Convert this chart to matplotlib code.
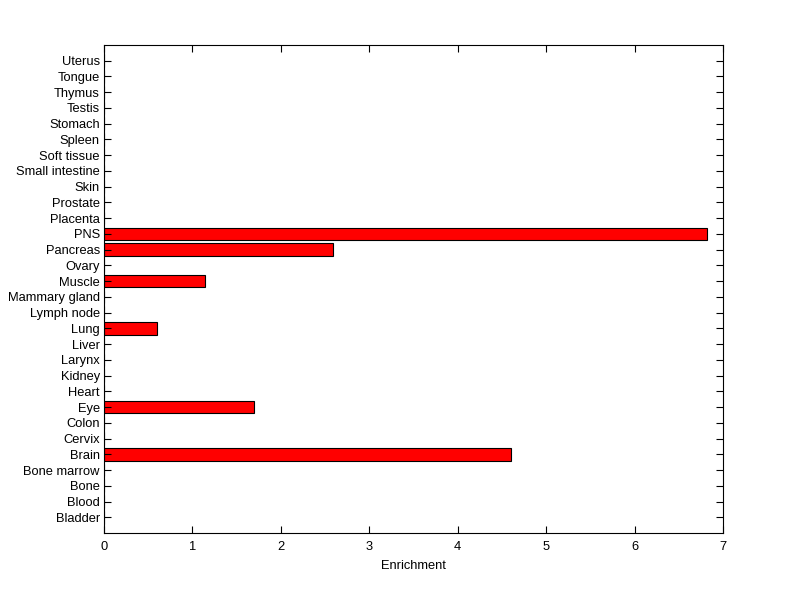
import matplotlib
matplotlib.use("Agg")
import matplotlib.pyplot as plt
import numpy as np

tissues = ["Bladder", "Blood", "Bone", "Bone marrow", "Brain", "Cervix", "Colon",
           "Eye", "Heart", "Kidney", "Larynx", "Liver", "Lung", "Lymph node",
           "Mammary gland", "Muscle", "Ovary", "Pancreas", "PNS", "Placenta",
           "Prostate", "Skin", "Small intestine", "Soft tissue", "Spleen",
           "Stomach", "Testis", "Thymus", "Tongue", "Uterus"]
enrichment = [0, 0, 0, 0, 4.60, 0, 0,
              1.70, 0, 0, 0, 0, 0.60, 0,
              0, 1.14, 0, 2.59, 6.82, 0,
              0, 0, 0, 0, 0,
              0, 0, 0, 0, 0]

plt.rcParams['font.family'] = ['Liberation Sans', 'DejaVu Sans']

fig = plt.figure(figsize=(8, 5.99), dpi=100)
ax = fig.add_axes([104 / 800, 1 - 533 / 599, (723 - 104) / 800, (533 - 45) / 599])

pos = np.arange(1, len(tissues) + 1)
ax.barh(pos, enrichment, height=0.8, color="red", edgecolor="black", linewidth=0.8)

ax.set_xlim(0, 7)
ax.set_ylim(0, len(tissues) + 1)
ax.set_yticks(pos)
ax.set_yticklabels(tissues)
ax.set_xticks(range(0, 8))
ax.tick_params(direction="in", top=True, right=True, length=5, width=0.8,
               labelsize=9.3)
ax.tick_params(axis="x", pad=6)
ax.tick_params(axis="y", pad=3)
for s in ax.spines.values():
    s.set_linewidth(0.8)
ax.set_xlabel("Enrichment", fontsize=9.3, labelpad=5)

fig.savefig("out.png", dpi=100)
